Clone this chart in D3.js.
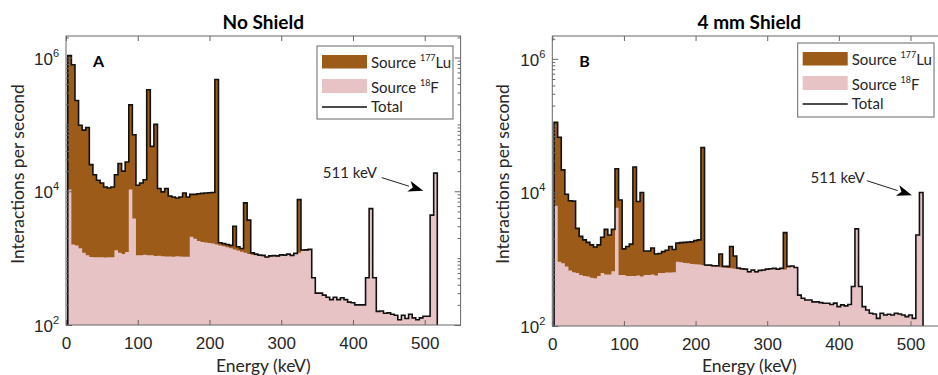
<!DOCTYPE html>
<html>
<head>
<meta charset="utf-8">
<script src="https://cdn.jsdelivr.net/npm/d3@7"></script>
<style>
  body { margin: 0; background: #fff; }
  svg { font-family: Lato, "Open Sans", sans-serif; }
</style>
</head>
<body>
<svg id="chart" width="938" height="375"></svg>
<script>
// bin centres in keV, 5 keV wide bins
const energy = d3.range(5, 516, 5);

// No shield: interactions per second per bin
const luNoShield = [
  1059000, 778000, 226500, 95600, 80800, 88900, 23960, 16670, 13570, 12270,
  10580, 10170, 10570, 16390, 24800, 18850, 26160, 185400, 66100, 11200,
  12200, 13780, 328900, 45900, 98920, 9910, 8730, 9940, 7440, 7150,
  6880, 7140, 8350, 7150, 6920, 7050, 7400, 7550, 7680, 7820,
  7950, 468400, 150, 150, 150, 150, 1650, 180, 140, 5500,
  2550, 80, 50, 30, 30, 20, 30, 20, 20, 20,
  30, 30, 20, 30, 6300, 40, 30, 30, 0, 0,
  0, 0, 0, 0, 0, 0, 0, 0, 0, 0,
  0, 0, 0, 0, 0, 0, 0, 0, 0, 0,
  0, 0, 0, 0, 0, 0, 0, 0, 0, 0,
  0, 0, 0
];
const fNoShield = [
  10600, 1600, 1550, 1400, 1200, 1100, 1040, 1030, 1030, 1030,
  1020, 1030, 1030, 1310, 1200, 1150, 1240, 10600, 3900, 1100,
  1100, 1120, 1100, 1100, 1080, 1090, 1070, 1060, 1060, 1050,
  1070, 1060, 1050, 1050, 2080, 1950, 1800, 1750, 1720, 1680,
  1650, 1600, 1550, 1500, 1450, 1400, 1350, 1300, 1250, 1200,
  1150, 1120, 1100, 1080, 1070, 1020, 1050, 1070, 1060, 1100,
  1080, 1120, 1080, 1150, 1200, 1280, 1300, 1320, 510, 300,
  300, 280, 260, 240, 260, 240, 255, 240, 220, 215,
  200, 200, 200, 510, 5500, 510, 160, 162, 150, 152,
  145, 140, 120, 140, 125, 145, 128, 120, 128, 135,
  135, 4400, 18700
];

// 4 mm shield
const luShield = [
  105700, 66080, 20930, 8620, 6820, 6760, 2280, 1620, 1390, 1240,
  1110, 1000, 1080, 1510, 2210, 1710, 2140, 16700, 7120, 850,
  990, 1120, 23440, 6730, 9450, 750, 750, 880, 630, 600,
  680, 730, 920, 760, 820, 870, 910, 930, 970, 1060,
  1120, 46180, 20, 25, 20, 30, 440, 30, 40, 820,
  400, 30, 20, 20, 15, 20, 15, 15, 15, 15,
  15, 15, 15, 15, 1800, 20, 20, 10, 0, 0,
  0, 0, 0, 0, 0, 0, 0, 0, 0, 0,
  0, 0, 0, 0, 0, 0, 0, 0, 0, 0,
  0, 0, 0, 0, 0, 0, 0, 0, 0, 0,
  0, 0, 0
];
const fShield = [
  6300, 920, 870, 780, 680, 640, 620, 580, 560, 550,
  530, 520, 560, 620, 590, 590, 660, 5900, 580, 580,
  560, 560, 560, 570, 550, 580, 580, 590, 570, 620,
  620, 630, 630, 640, 920, 900, 880, 870, 850, 840,
  830, 820, 800, 790, 780, 770, 760, 750, 740, 730,
  720, 710, 700, 690, 635, 670, 635, 665, 675, 695,
  705, 715, 695, 715, 700, 760, 770, 740, 290, 260,
  245, 245, 230, 230, 224, 219, 219, 210, 220, 195,
  207, 200, 210, 390, 2850, 390, 195, 174, 155, 151,
  130, 155, 146, 150, 146, 155, 151, 146, 138, 146,
  130, 2300, 10000
];

const xTicks = [0, 100, 200, 300, 400, 500];
const yMajor = [1e2, 1e4, 1e6];
const binWidth = 5;

const colLu = '#9c5b18';
const colF = '#e7c3c6';
const colAxis = '#666';
const colText = '#262626';

const svg = d3.select('#chart');

const panels = [
  { title: 'No Shield', tag: 'A', lu: luNoShield, f: fNoShield,
    left: 66, right: 460.6, top: 36, bottom: 325, yMax: 2.1e6, ylabX: 18,
    note: { at: [358, 1.6e4], tail: [440, 1.6e4], tip: [498, 1.02e4], anchor: 'start' },
    legend: { x: 317, y: 46, w: 136, h: 73 } },
  { title: '4 mm Shield', tag: 'B', lu: luShield, f: fShield,
    left: 552.3, right: 946.3, top: 36, bottom: 326, yMax: 2.2e6, ylabX: 503,
    note: { at: [436, 1.4e4], tail: [439, 1.5e4], tip: [502, 9.1e3], anchor: 'end' },
    legend: { x: 797.7, y: 43, w: 136.3, h: 74 } }
];

panels.forEach((p, i) => drawPanel(p, i));

function drawPanel(p, idx) {
  const x = d3.scaleLinear().domain([0, 550]).range([p.left, p.right]);
  const y = d3.scaleLog().domain([100, p.yMax]).range([p.bottom, p.top]);
  const g = svg.append('g');

  const clipId = 'clip' + idx;
  g.append('clipPath').attr('id', clipId)
    .append('rect')
    .attr('x', p.left).attr('y', p.top)
    .attr('width', p.right - p.left).attr('height', p.bottom - p.top);

  const bins = energy.map((e, i) => ({ lo: e - binWidth / 2, hi: e + binWidth / 2,
    lu: p.lu[i], f: p.f[i], t: p.lu[i] + p.f[i] }));
  const last = bins[bins.length - 1];

  // step points (stepAfter), closed with the right bin edge
  const stairs = key => bins.map(b => ({ e: b.lo, v: b[key] })).concat([{ e: last.hi, v: last[key] }]);

  const area = d3.area().curve(d3.curveStepAfter)
    .x(d => x(d.e)).y0(y(100)).y1(d => y(d.v));
  const line = d3.line().curve(d3.curveStepAfter)
    .x(d => x(d.e)).y(d => y(d.v));

  const plot = g.append('g').attr('clip-path', `url(#${clipId})`);
  plot.append('path').datum(stairs('t')).attr('d', area).attr('fill', colLu);
  plot.append('path').datum(stairs('f')).attr('d', area).attr('fill', colF);

  const outline = [{ e: bins[0].lo, v: 100 }].concat(stairs('t'), [{ e: last.hi, v: 100 }]);
  plot.append('path').datum(outline).attr('d', line)
    .attr('fill', 'none').attr('stroke', '#111').attr('stroke-width', 1.6)
    .attr('stroke-linejoin', 'miter');

  // axes
  const minors = [];
  for (let n = 2; n <= 6; n++) for (let m = 1; m <= 9; m++) {
    const v = m * Math.pow(10, n);
    if (v <= p.yMax && !yMajor.includes(v)) minors.push(v);
  }

  const gx = g.append('g').attr('transform', `translate(0,${p.bottom})`)
    .call(d3.axisBottom(x).tickValues(xTicks).tickSize(-5).tickPadding(11.5));
  gx.selectAll('text').attr('font-size', 17).attr('fill', colText).attr('font-family', null);
  g.append('g').attr('transform', `translate(0,${p.top})`)
    .call(d3.axisTop(x).tickValues(xTicks).tickSize(-5).tickFormat(''));

  g.append('g').attr('transform', `translate(${p.left},0)`)
    .call(d3.axisLeft(y).tickValues(minors).tickSize(-3).tickFormat(''));
  g.append('g').attr('transform', `translate(${p.right},0)`)
    .call(d3.axisRight(y).tickValues(minors).tickSize(-3).tickFormat(''));
  g.append('g').attr('transform', `translate(${p.right},0)`)
    .call(d3.axisRight(y).tickValues(yMajor).tickSize(-6).tickFormat(''));

  const gy = g.append('g').attr('transform', `translate(${p.left},0)`)
    .call(d3.axisLeft(y).tickValues(yMajor).tickSize(-6).tickPadding(7).tickFormat(''));
  gy.selectAll('.tick text')
    .attr('font-size', 17).attr('fill', colText).attr('font-family', null).attr('dy', '0.38em')
    .each(function (d) {
      const t = d3.select(this);
      t.append('tspan').text('10');
      t.append('tspan').attr('font-size', 11).attr('dy', -8).text(Math.round(Math.log10(d)));
    });

  g.selectAll('.domain').remove();
  g.selectAll('.tick line').attr('stroke', colAxis);

  g.append('rect')
    .attr('x', p.left).attr('y', p.top)
    .attr('width', p.right - p.left).attr('height', p.bottom - p.top)
    .attr('fill', 'none').attr('stroke', colAxis).attr('stroke-width', 1);

  // titles and labels
  g.append('text').attr('x', (p.left + p.right) / 2).attr('y', 29)
    .attr('text-anchor', 'middle').attr('font-size', 19).attr('font-weight', 'bold')
    .attr('fill', '#000').text(p.title);
  g.append('text').attr('x', (p.left + p.right) / 2).attr('y', 372)
    .attr('text-anchor', 'middle').attr('font-size', 17.5).attr('fill', colText)
    .text('Energy (keV)');
  g.append('text')
    .attr('transform', `translate(${p.ylabX},174) rotate(-90)`)
    .attr('text-anchor', 'middle').attr('dy', '0.35em')
    .attr('font-size', 17.5).attr('fill', colText)
    .text('Interactions per second');
  g.append('text').attr('x', p.left + 27).attr('y', 67)
    .attr('font-size', 16).attr('font-weight', 'bold').attr('fill', '#000')
    .text(p.tag);

  // 511 keV annotation
  const n = p.note;
  g.append('text').attr('x', x(n.at[0])).attr('y', y(n.at[1]))
    .attr('text-anchor', n.anchor).attr('font-size', 15).attr('fill', colText)
    .text('511 keV');
  const tx = x(n.tail[0]), ty = y(n.tail[1]), hx = x(n.tip[0]), hy = y(n.tip[1]);
  const ang = Math.atan2(hy - ty, hx - tx);
  const len = 15, half = 5.5;
  const bx = hx - len * Math.cos(ang), by = hy - len * Math.sin(ang);
  g.append('line').attr('x1', tx).attr('y1', ty).attr('x2', bx).attr('y2', by)
    .attr('stroke', '#222').attr('stroke-width', 1);
  g.append('path')
    .attr('d', `M${hx},${hy}L${bx - half * Math.sin(ang)},${by + half * Math.cos(ang)}` +
      `L${bx + 4 * Math.cos(ang)},${by + 4 * Math.sin(ang)}` +
      `L${bx + half * Math.sin(ang)},${by - half * Math.cos(ang)}Z`)
    .attr('fill', '#000');

  // legend
  const L = p.legend;
  const lg = g.append('g').attr('transform', `translate(${L.x},${L.y})`);
  lg.append('rect').attr('width', L.w).attr('height', L.h)
    .attr('fill', '#fff').attr('stroke', colAxis);
  lg.append('rect').attr('x', 5).attr('y', 9).attr('width', 45).attr('height', 13.5).attr('fill', colLu);
  lg.append('rect').attr('x', 5).attr('y', 33).attr('width', 45).attr('height', 14).attr('fill', colF);
  lg.append('line').attr('x1', 5).attr('x2', 50).attr('y1', 61).attr('y2', 61)
    .attr('stroke', '#111').attr('stroke-width', 1.4);
  const entries = [
    { sup: '177', el: 'Lu', y: 22 },
    { sup: '18', el: 'F', y: 46.5 }
  ];
  entries.forEach(en => {
    const t = lg.append('text').attr('x', 54).attr('y', en.y)
      .attr('font-size', 15).attr('fill', colText);
    t.append('tspan').text('Source ');
    t.append('tspan').attr('font-size', 9).attr('dy', -7).text(en.sup);
    t.append('tspan').attr('dy', 7).text(en.el);
  });
  lg.append('text').attr('x', 54).attr('y', 65.5)
    .attr('font-size', 15).attr('fill', colText).text('Total');
}
</script>
</body>
</html>
